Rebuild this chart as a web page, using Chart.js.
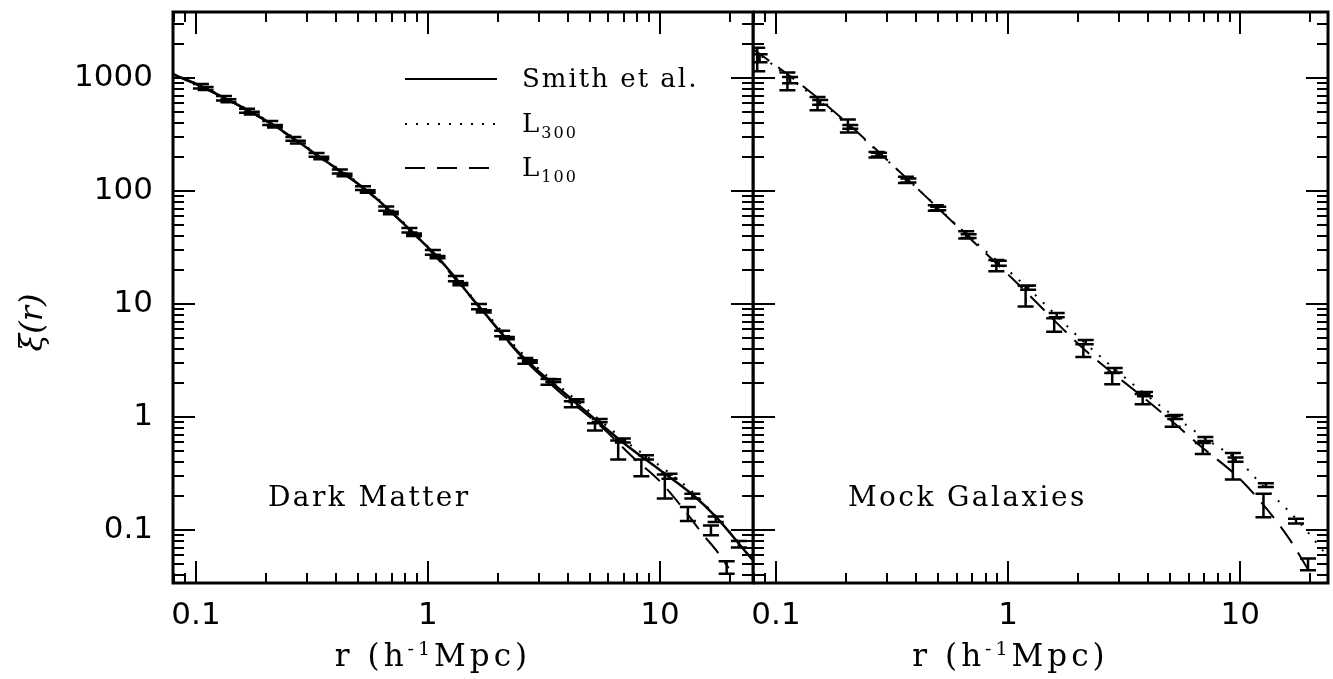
<!DOCTYPE html>
<html>
<head>
<meta charset="utf-8">
<script src="https://cdn.jsdelivr.net/npm/chart.js@4.4.1/dist/chart.umd.min.js"></script>
<style>
  html, body { margin: 0; background: #fff; }
  #wrap { position: relative; width: 1333px; height: 679px; overflow: hidden; }
  canvas { position: absolute; top: 0; }
  #left { left: 0; }
  #right { left: 753px; }
</style>
</head>
<body>
<div id="wrap">
  <canvas id="left" width="756" height="679"></canvas>
  <canvas id="right" width="580" height="679"></canvas>
</div>
<script>
// ---- data (r in h^-1 Mpc, xi(r)) ----

// tick labels
const xTickValues = [0.1, 1, 10];
const xTickLabels = ['0.1', '1', '10'];
const yTickValues = [0.1, 1, 10, 100, 1000];
const yTickLabels = ['0.1', '1', '10', '100', '1000'];

// Dark Matter panel: curves
const dmSmithR  = [0.0796, 0.107, 0.209, 0.342, 0.562, 0.995, 1.13, 1.67, 2.57, 4.21, 7.2, 10.0, 13.9, 17.6, 23.7, 25.2];
const dmSmithXi = [1085, 832, 400, 200, 96, 32, 24.5, 9.4, 3.4, 1.41, 0.56, 0.34, 0.204, 0.128, 0.0625, 0.054];
const dmL300R   = [0.0796, 0.107, 0.209, 0.342, 0.562, 0.995, 1.67, 2.57, 4.21, 7.2, 10.0, 13.9, 17.6, 21.9, 25.2];
const dmL300Xi  = [1090, 840, 405, 204, 98, 32.5, 9.7, 3.6, 1.5, 0.6, 0.37, 0.215, 0.13, 0.078, 0.058];
const dmL100R   = [0.0796, 0.107, 0.209, 0.342, 0.562, 0.995, 1.67, 2.57, 4.0, 5.75, 7.65, 10.0, 12.6, 15.3, 17.5, 19.8];
const dmL100Xi  = [1075, 825, 395, 198, 95, 31.5, 9.3, 3.3, 1.45, 0.78, 0.44, 0.27, 0.155, 0.092, 0.066, 0.046];

// Dark Matter panel: measured points with errors
const dmP300R   = [0.11, 0.138, 0.174, 0.219, 0.275, 0.347, 0.437, 0.55, 0.692, 0.871, 1.1, 1.38, 1.74, 2.19, 2.75, 3.47, 4.37, 5.5, 6.92, 8.71, 11.0, 13.8, 17.4, 21.9];
const dmP300Xi  = [809, 630, 489, 375, 271, 196, 139, 99, 64, 41, 26, 15, 8.6, 5.0, 3.1, 2.1, 1.4, 0.93, 0.62, 0.44, 0.30, 0.20, 0.125, 0.075];
const dmP300Err = [25, 18, 14, 10, 7, 5, 3.5, 2.5, 1.6, 1.0, 0.6, 0.35, 0.2, 0.12, 0.08, 0.06, 0.04, 0.03, 0.025, 0.02, 0.015, 0.01, 0.007, 0.005];
const dmP100R   = [0.105, 0.132, 0.166, 0.209, 0.263, 0.331, 0.417, 0.525, 0.661, 0.832, 1.05, 1.32, 1.66, 2.09, 2.63, 3.31, 4.17, 5.25, 6.61, 8.32, 10.5, 13.2, 16.6, 19.4];
const dmP100Xi  = [847, 662, 514, 400, 289, 209, 149, 106, 70, 45, 28.7, 16.8, 9.5, 5.5, 3.15, 2.05, 1.3, 0.82, 0.52, 0.36, 0.25, 0.14, 0.10, 0.047];
const dmP100Err = [40, 30, 22, 16, 11, 8, 6, 4, 3, 2, 1.4, 0.9, 0.5, 0.3, 0.18, 0.12, 0.08, 0.06, 0.1, 0.06, 0.06, 0.02, 0.01, 0.006];

// Mock Galaxies panel: curves
const mgL300R   = [0.0796, 0.115, 0.2, 0.372, 0.676, 1.21, 2.15, 3.89, 5.25, 7.2, 10.0, 12.2, 17.8, 23.9];
const mgL300Xi  = [1780, 1000, 400, 125, 40, 14, 4.5, 1.6, 1.0, 0.63, 0.40, 0.26, 0.12, 0.058];
const mgL100R   = [0.0796, 0.115, 0.2, 0.372, 0.676, 1.07, 2.15, 3.89, 4.84, 6.7, 10.2, 16.0, 20.0];
const mgL100Xi  = [1800, 1040, 410, 125, 39, 16, 3.9, 1.45, 1.0, 0.56, 0.27, 0.088, 0.042];

// Mock Galaxies panel: measured points with errors
const mgP300R   = [0.085, 0.115, 0.155, 0.209, 0.278, 0.372, 0.5, 0.676, 0.912, 1.22, 1.62, 2.16, 2.88, 3.89, 5.25, 7.08, 9.55, 12.9, 17.4];
const mgP300Xi  = [1500, 960, 610, 370, 210, 124, 70, 40, 23, 14, 8.0, 4.6, 2.6, 1.6, 1.0, 0.64, 0.42, 0.25, 0.12];
const mgP300Err = [120, 60, 30, 15, 8, 5, 2.5, 1.5, 1.2, 0.6, 0.35, 0.2, 0.12, 0.07, 0.04, 0.025, 0.018, 0.01, 0.006];
const mgP100R   = [0.083, 0.112, 0.151, 0.204, 0.271, 0.363, 0.488, 0.66, 0.89, 1.19, 1.58, 2.11, 2.81, 3.8, 5.12, 6.9, 9.3, 12.6, 19.6];
const mgP100Xi  = [1500, 950, 600, 380, 210, 126, 71, 41, 22, 12.0, 6.6, 3.9, 2.2, 1.45, 0.92, 0.53, 0.38, 0.17, 0.05];
const mgP100Err = [350, 170, 80, 50, 12, 8, 4, 3, 2.5, 2.5, 0.9, 0.5, 0.25, 0.15, 0.1, 0.06, 0.1, 0.04, 0.006];

// axis ranges
const X_MIN = 0.0796, X_MAX_LEFT = 25.2, X_MAX_RIGHT = 23.9;
const Y_MIN = 0.034, Y_MAX = 3840;

const SERIF = "'DejaVu Serif', serif";
const SANS = "'DejaVu Sans', sans-serif";

function pts(rs, xis, errs) {
  return rs.map((r, i) => errs ? { x: r, y: xis[i], e: errs[i] } : { x: r, y: xis[i] });
}

function curve(rs, xis, dash, width) {
  return {
    data: pts(rs, xis),
    borderColor: '#000',
    borderWidth: width || 2,
    borderDash: dash || [],
    pointRadius: 0,
    fill: false,
    cubicInterpolationMode: 'monotone'
  };
}

function points(rs, xis, errs) {
  return { data: pts(rs, xis, errs), showLine: false, pointRadius: 0, errorBars: true };
}

// minor + major ticks of a log axis
function logTicks(min, max) {
  let out = [];
  for (let k = Math.floor(Math.log10(min)); k <= Math.ceil(Math.log10(max)); k++) {
    for (let m = 1; m < 10; m++) {
      let v = m * Math.pow(10, k);
      if (v >= min && v <= max) out.push({ v: v, major: m === 1 });
    }
  }
  return out;
}

// text with a raised / lowered small part: parts = [[text, 'n'|'sup'|'sub'], ...]
function richText(ctx, parts, x, y, size, align, spacing) {
  ctx.letterSpacing = (spacing || 0) + 'px';
  let total = 0;
  parts.forEach(p => {
    ctx.font = (p[1] === 'n' ? size : Math.round(size * 0.62)) + 'px ' + SERIF;
    total += ctx.measureText(p[0]).width;
  });
  let cx = align === 'center' ? x - total / 2 : x;
  ctx.textAlign = 'left';
  parts.forEach(p => {
    let s = p[1] === 'n' ? size : Math.round(size * 0.62);
    ctx.font = s + 'px ' + SERIF;
    let dy = p[1] === 'sup' ? -size * 0.36 : p[1] === 'sub' ? size * 0.22 : 0;
    ctx.fillText(p[0], cx, y + dy);
    cx += ctx.measureText(p[0]).width;
  });
  ctx.letterSpacing = '0px';
}

const errorBarPlugin = {
  id: 'errorBars',
  afterDatasetsDraw(chart) {
    const { ctx, chartArea: a, scales: { x, y } } = chart;
    ctx.save();
    ctx.beginPath();
    ctx.rect(a.left, a.top, a.right - a.left, a.bottom - a.top);
    ctx.clip();
    ctx.strokeStyle = '#000';
    ctx.lineWidth = 2.5;
    ctx.beginPath();
    chart.data.datasets.forEach(ds => {
      if (!ds.errorBars) return;
      ds.data.forEach(p => {
        const px = x.getPixelForValue(p.x);
        const lo = y.getPixelForValue(Math.max(p.y - p.e, Y_MIN / 10));
        const hi = y.getPixelForValue(p.y + p.e);
        ctx.moveTo(px, lo); ctx.lineTo(px, hi);
        ctx.moveTo(px - 8, lo); ctx.lineTo(px + 8, lo);
        ctx.moveTo(px - 8, hi); ctx.lineTo(px + 8, hi);
      });
    });
    ctx.stroke();
    ctx.restore();
  }
};

const framePlugin = {
  id: 'frame',
  afterDraw(chart, args, o) {
    const { ctx, chartArea: a, scales: { x, y } } = chart;
    ctx.save();
    ctx.strokeStyle = '#000';
    ctx.fillStyle = '#000';

    // inward ticks on all four sides
    ctx.lineWidth = 2;
    ctx.beginPath();
    logTicks(x.min, x.max).forEach(t => {
      const px = Math.round(x.getPixelForValue(t.v));
      const len = t.major ? 22 : 10;
      ctx.moveTo(px, a.bottom); ctx.lineTo(px, a.bottom - len);
      ctx.moveTo(px, a.top); ctx.lineTo(px, a.top + len);
    });
    logTicks(y.min, y.max).forEach(t => {
      const py = Math.round(y.getPixelForValue(t.v));
      const len = t.major ? 22 : 11;
      ctx.moveTo(a.left, py); ctx.lineTo(a.left + len, py);
      ctx.moveTo(a.right, py); ctx.lineTo(a.right - len, py);
    });
    ctx.stroke();

    ctx.lineWidth = 3;
    ctx.strokeRect(a.left, a.top, a.right - a.left, a.bottom - a.top);

    // tick labels
    ctx.font = '31px ' + SANS;
    ctx.textBaseline = 'middle';
    ctx.textAlign = 'center';
    xTickValues.forEach((v, i) => ctx.fillText(xTickLabels[i], x.getPixelForValue(v), a.bottom + 33));
    if (o.yLabels) {
      ctx.textAlign = 'right';
      yTickValues.forEach((v, i) => ctx.fillText(yTickLabels[i], a.left - 20, y.getPixelForValue(v)));
    }

    // x title
    ctx.textBaseline = 'alphabetic';
    richText(ctx, [['r (h', 'n'], ['-1', 'sup'], ['Mpc)', 'n']], (a.left + a.right) / 2 - 30, a.bottom + 83, 31, 'center', 4);

    // y title
    if (o.yTitle) {
      ctx.save();
      ctx.translate(42, (a.top + a.bottom) / 2 + 25);
      ctx.rotate(-Math.PI / 2);
      ctx.font = 'italic 32px ' + SERIF;
      ctx.textAlign = 'center';
      ctx.fillText('\u03BE(r)', 0, 0);
      ctx.restore();
    }

    // panel name
    ctx.font = '28px ' + SERIF;
    ctx.letterSpacing = '2.4px';
    ctx.textAlign = 'left';
    ctx.fillText(o.name, a.left + 95, a.bottom - 77);
    ctx.letterSpacing = '0px';

    // legend
    if (o.legend) {
      const lx = a.left + 232, lw = 92, tx = a.left + 349;
      const rows = [
        { dy: 67, dash: [], label: [['Smith et al.', 'n']] },
        { dy: 112, dash: [2, 9], label: [['L', 'n'], ['300', 'sub']] },
        { dy: 156, dash: [20, 12], label: [['L', 'n'], ['100', 'sub']] }
      ];
      rows.forEach(r => {
        ctx.lineWidth = 2;
        ctx.setLineDash(r.dash);
        ctx.beginPath();
        ctx.moveTo(lx, a.top + r.dy); ctx.lineTo(lx + lw, a.top + r.dy);
        ctx.stroke();
        ctx.setLineDash([]);
        richText(ctx, r.label, tx, a.top + r.dy + 8, 26, 'left', 2);
      });
    }
    ctx.restore();
  }
};

function renderPanel(canvasId, xMax, datasets, padding, frameOpts) {
  return new Chart(document.getElementById(canvasId), {
    type: 'line',
    data: { datasets: datasets },
    options: {
      responsive: false,
      animation: false,
      devicePixelRatio: 1,
      layout: { padding: padding },
      plugins: { legend: { display: false }, tooltip: { enabled: false }, frame: frameOpts },
      scales: {
        x: { type: 'logarithmic', min: X_MIN, max: xMax, display: false },
        y: { type: 'logarithmic', min: Y_MIN, max: Y_MAX, display: false }
      }
    },
    plugins: [errorBarPlugin, framePlugin]
  });
}

renderPanel('left', X_MAX_LEFT, [
  curve(dmSmithR, dmSmithXi, [], 2.5),
  curve(dmL300R, dmL300Xi, [2, 9]),
  curve(dmL100R, dmL100Xi, [20, 11]),
  points(dmP300R, dmP300Xi, dmP300Err),
  points(dmP100R, dmP100Xi, dmP100Err)
], { left: 173, right: 3, top: 12, bottom: 96 },
   { name: 'Dark Matter', yLabels: true, yTitle: true, legend: true });

renderPanel('right', X_MAX_RIGHT, [
  curve(mgL300R, mgL300Xi, [2, 9]),
  curve(mgL100R, mgL100Xi, [20, 11]),
  points(mgP300R, mgP300Xi, mgP300Err),
  points(mgP100R, mgP100Xi, mgP100Err)
], { left: 0, right: 5, top: 12, bottom: 96 },
   { name: 'Mock Galaxies', yLabels: false, yTitle: false, legend: false });
</script>
</body>
</html>
